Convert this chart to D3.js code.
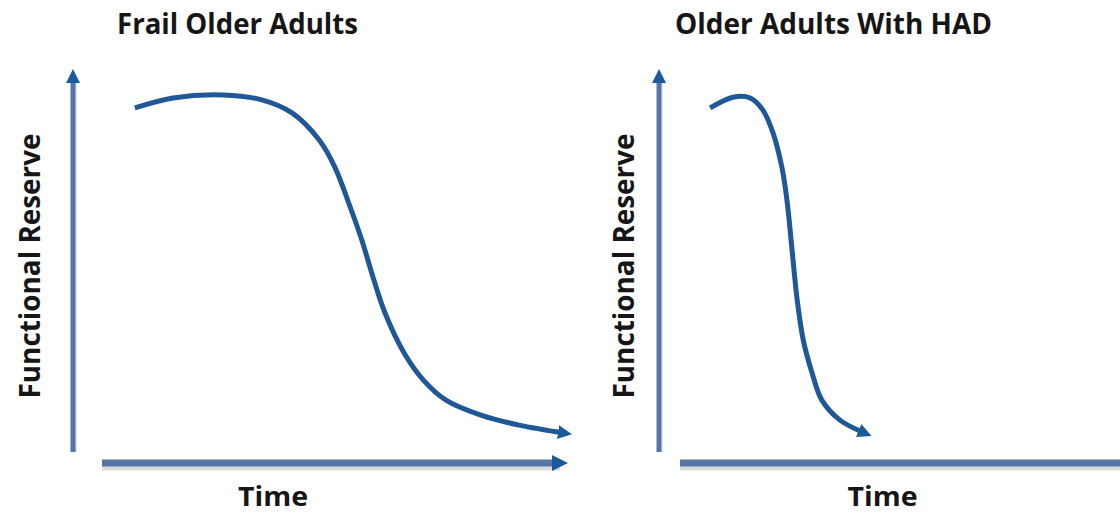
<!DOCTYPE html>
<html>
<head>
<meta charset="utf-8">
<script src="https://cdn.jsdelivr.net/npm/d3@7"></script>
<style>
  html, body { margin: 0; padding: 0; background: #fff; }
  svg { display: block; }
  .lbl { font-family: "Open Sans", "Noto Sans", sans-serif; font-weight: 700; fill: #161616; }
</style>
</head>
<body>
<div id="chart"></div>
<script>
// Panel titles and axis labels
const titles = ["Frail Older Adults", "Older Adults With HAD"];
const yLabel = "Functional Reserve";
const xLabel = "Time";

// Curves: time (0-100) vs functional reserve (0-100)
const frailTime    = [7.5, 15.7, 26.5, 34.8, 41.3, 47.1, 50.5, 53.8, 56.3, 58.7, 61.3, 65.4, 69.5, 74.4, 81.9, 90.1, 100];
const frailReserve = [89.6, 92.2, 93.0, 91.7, 88.3, 81.3, 74.2, 63.8, 55.2, 45.6, 36.2, 25.8, 18.8, 13.5, 9.6, 7.0, 4.9];

const hadTime    = [6.5, 11.4, 15.1, 17.8, 20.0, 21.9, 23.0, 24.1, 25.2, 26.5, 28.4, 30.5, 34.4, 39.8];
const hadReserve = [89.6, 92.4, 92.2, 89.1, 83.1, 74.2, 65.6, 52.6, 39.6, 29.2, 20.6, 13.5, 8.3, 4.9];

const width = 1120, height = 515;
const curveColor = "#1f5896";
const axisColor = "#5474a6";
const headColor = "#1b5a9b";

const svg = d3.select("#chart").append("svg")
  .attr("width", width)
  .attr("height", height);

// arrowhead markers
const defs = svg.append("defs");
function addMarker(id, size) {
  defs.append("marker")
    .attr("id", id)
    .attr("markerUnits", "userSpaceOnUse")
    .attr("viewBox", "0 -5 10 10")
    .attr("refX", 5)
    .attr("refY", 0)
    .attr("markerWidth", size)
    .attr("markerHeight", size)
    .attr("orient", "auto")
    .append("path")
    .attr("d", "M0,-5L10,0L0,5Z")
    .attr("fill", headColor);
}
addMarker("head", 16);
addMarker("headSmall", 14);

const panels = [
  { title: titles[0], time: frailTime, reserve: frailReserve,
    range: [100, 565], axisStart: 102, axisEnd: 560, yAxisX: 73,
    titleX: 237.5, titleW: 241, timeX: 273, labelX: 30, xArrow: true },
  { title: titles[1], time: hadTime, reserve: hadReserve,
    range: [680, 1145], axisStart: 680, axisEnd: 1140, yAxisX: 659,
    titleX: 833.5, titleW: 317, timeX: 882.5, labelX: 624, xArrow: false }
];

panels.forEach(p => {
  const x = d3.scaleLinear().domain([0, 100]).range(p.range);
  const y = d3.scaleLinear().domain([0, 100]).range([452, 68]);
  const g = svg.append("g");
  const xAxisY = 463;

  // y axis (shadow + line with arrow)
  g.append("line")
    .attr("x1", p.yAxisX + 2.5).attr("x2", p.yAxisX + 2.5)
    .attr("y1", y.range()[0]).attr("y2", y.range()[1] + 14)
    .attr("stroke", "#e3e6ee").attr("stroke-width", 3);
  g.append("line")
    .attr("x1", p.yAxisX).attr("x2", p.yAxisX)
    .attr("y1", y.range()[0]).attr("y2", y.range()[1] + 8)
    .attr("stroke", axisColor).attr("stroke-width", 5)
    .attr("marker-end", "url(#headSmall)");

  // x axis (shadow + line with arrow)
  g.append("line")
    .attr("x1", p.axisStart).attr("x2", p.axisEnd)
    .attr("y1", xAxisY + 5).attr("y2", xAxisY + 5)
    .attr("stroke", "#dadada").attr("stroke-width", 5);
  g.append("line")
    .attr("x1", p.axisStart).attr("x2", p.axisEnd)
    .attr("y1", xAxisY).attr("y2", xAxisY)
    .attr("stroke", axisColor).attr("stroke-width", 7)
    .attr("marker-end", p.xArrow ? "url(#head)" : null);

  // curve
  const pts = p.time.map((t, i) => [t, p.reserve[i]]);
  const line = d3.line()
    .x(d => x(d[0]))
    .y(d => y(d[1]))
    .curve(d3.curveCatmullRom.alpha(0.5));
  g.append("path")
    .attr("d", line(pts))
    .attr("fill", "none")
    .attr("stroke", curveColor)
    .attr("stroke-width", 5)
    .attr("marker-end", "url(#headSmall)");

  // title
  g.append("text").attr("class", "lbl")
    .attr("x", p.titleX).attr("y", 34)
    .attr("text-anchor", "middle")
    .attr("font-size", 29)
    .attr("textLength", p.titleW)
    .attr("lengthAdjust", "spacingAndGlyphs")
    .text(p.title);

  // y label
  g.append("text").attr("class", "lbl")
    .attr("transform", `translate(${p.labelX + 10},266) rotate(-90)`)
    .attr("text-anchor", "middle")
    .attr("font-size", 29)
    .attr("textLength", 265)
    .attr("lengthAdjust", "spacingAndGlyphs")
    .text(yLabel);

  // x label (sits at the bottom edge, kept just inside)
  g.append("text").attr("class", "lbl")
    .attr("x", p.timeX).attr("y", 506)
    .attr("text-anchor", "middle")
    .attr("font-size", 26)
    .attr("textLength", 70)
    .attr("lengthAdjust", "spacingAndGlyphs")
    .text(xLabel);
});
</script>
</body>
</html>
